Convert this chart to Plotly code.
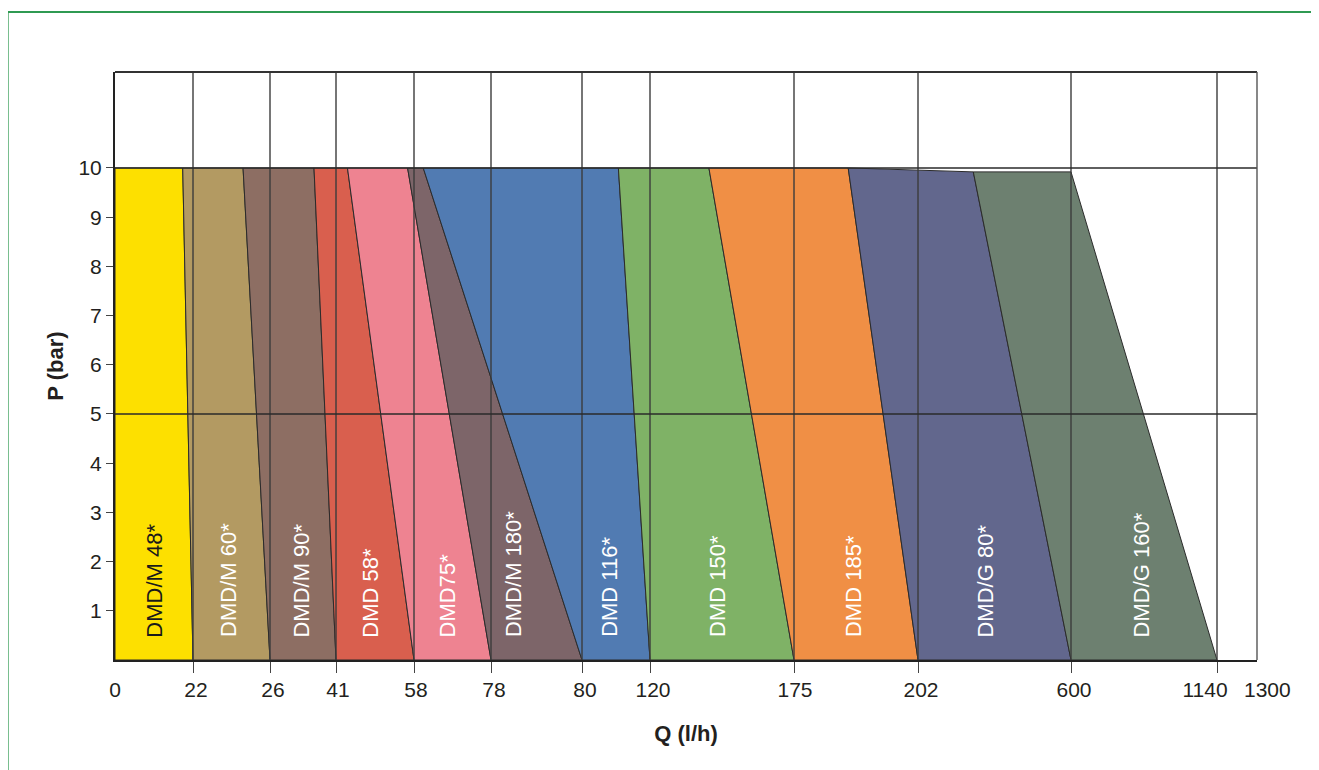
import numpy as np
import plotly.graph_objects as go

# ---------------- data ----------------
models = ["DMD/M 48*", "DMD/M 60*", "DMD/M 90*", "DMD 58*", "DMD75*", "DMD/M 180*",
          "DMD 116*", "DMD 150*", "DMD 185*", "DMD/G 80*", "DMD/G 160*"]
q_max = [22, 26, 41, 58, 78, 80, 120, 175, 202, 600, 1140]          # Q at P = 0
q_at_pmax = [19.1, 24.6, 36.0, 43.5, 56.6, 60.4, 101.4, 142.5, 186.8, 345.9, 600]  # Q at max pressure
p_max = [10, 10, 10, 10, 10, 10, 10, 10, 10, 9.92, 9.92]
label_q = [11.1, 23.85, 33.1, 48.5, 66.6, 78.5, 96.2, 145.8, 188.0, 378.1, 861.1]
label_p = 0.42

tick_q = [0, 22, 26, 41, 58, 78, 80, 120, 175, 202, 600, 1140, 1300]
tick_labels = [str(v) for v in tick_q]
y_ticks = [1, 2, 3, 4, 5, 6, 7, 8, 9, 10]

# ---------------- layout / style ----------------
tick_pos = [0, 78, 155, 221, 299, 376, 467, 535, 679, 803, 956, 1102, 1142]  # schematic axis positions
label_shift = [0, 3, 3, 2, 2, 3, 3, 3, 1, 3, 3, -12, 10]
colors = ["#FDE000", "#B39A62", "#8D6E63", "#D95F4E", "#EE8391", "#7D6569",
          "#517BB2", "#7FB266", "#F08F45", "#62678D", "#6D8070"]
text_colors = ["#1a1a1a"] + ["#ffffff"] * 10
FONT = "Liberation Sans, Arial, Helvetica, sans-serif"
EDGE = "#2b2b2b"
GRID = "#3c3c3c"
TXT = "#231f20"


def qpos(q):
    return float(np.interp(q, tick_q, tick_pos))


fig = go.Figure()

for i, name in enumerate(models):
    q_tl = 0 if i == 0 else q_at_pmax[i - 1]
    p_tl = p_max[0] if i == 0 else p_max[i - 1]
    q_bl = 0 if i == 0 else q_max[i - 1]
    xs = [qpos(q_tl), qpos(q_at_pmax[i]), qpos(q_max[i]), qpos(q_bl), qpos(q_tl)]
    ys = [p_tl, p_max[i], 0, 0, p_tl]
    fig.add_trace(go.Scatter(
        x=xs, y=ys, mode="lines", fill="toself", fillcolor=colors[i],
        line=dict(color=EDGE, width=1), name=name, hoverinfo="skip",
        showlegend=False))
    fig.add_annotation(
        x=qpos(label_q[i]), y=label_p, xref="x", yref="y", text=name,
        textangle=-90, showarrow=False, xanchor="center", yanchor="bottom",
        font=dict(family=FONT, size=22, color=text_colors[i]))

# last tick label sits just outside the plotted range -> place it in paper units
n_in = len(tick_pos) - 1
fig.add_annotation(
    x=(tick_pos[-1] + label_shift[-1]) / tick_pos[-1], y=-0.051,
    xref="paper", yref="paper",
    text=tick_labels[-1], showarrow=False, xanchor="center", yanchor="middle",
    font=dict(family=FONT, size=21, color=TXT))

shapes = []
# vertical grid lines above the areas
for tp in tick_pos[1:-1]:
    shapes.append(dict(type="line", xref="x", yref="paper", x0=tp, x1=tp, y0=0, y1=1,
                       line=dict(color=GRID, width=1.4), layer="above"))
# horizontal grid lines at 5 and 10 bar
for pv in (5, 10):
    shapes.append(dict(type="line", xref="paper", yref="y", x0=0, x1=1, y0=pv, y1=pv,
                       line=dict(color="#2a2a2a", width=1.4), layer="above"))
# outer frame of plot
shapes.append(dict(type="line", xref="paper", yref="paper", x0=0, x1=1, y0=1, y1=1,
                   line=dict(color="#333333", width=2), layer="above"))
shapes.append(dict(type="line", xref="paper", yref="paper", x0=1, x1=1, y0=0, y1=1,
                   line=dict(color="#555555", width=1.4), layer="above"))
# green page border
shapes.append(dict(type="line", xref="paper", yref="paper", x0=-0.0937, x1=-0.0937,
                   y0=-0.2, y1=1.102, line=dict(color="#2f9a52", width=1.3)))
shapes.append(dict(type="line", xref="paper", yref="paper", x0=-0.0937, x1=1.06,
                   y0=1.102, y1=1.102, line=dict(color="#2f9a52", width=1.8)))

fig.update_layout(
    width=1311, height=762,
    margin=dict(l=107, r=62, t=64, b=110),
    paper_bgcolor="white", plot_bgcolor="white",
    font=dict(family=FONT, color=TXT),
    shapes=shapes,
    showlegend=False,
)

fig.update_xaxes(
    range=[0, tick_pos[-1]],
    tickmode="array",
    tickvals=[p + s for p, s in zip(tick_pos[:n_in], label_shift[:n_in])],
    ticktext=tick_labels[:n_in],
    ticks="", showgrid=False, zeroline=False,
    ticklabelstandoff=10,
    tickfont=dict(family=FONT, size=21, color=TXT),
    showline=True, linecolor="#222222", linewidth=2,
    minor=dict(tickmode="array", tickvals=tick_pos[1:-1], ticks="outside",
               ticklen=11, tickcolor="#444444", tickwidth=1.2, showgrid=False),
    title=dict(text="<b>Q (l/h)</b>", font=dict(family=FONT, size=22, color=TXT),
               standoff=25),
    fixedrange=True,
)

fig.update_yaxes(
    range=[0, 11.95],
    tickmode="array", tickvals=y_ticks, ticktext=[str(v) for v in y_ticks],
    ticks="outside", ticklen=7, tickcolor="#444444", tickwidth=1.2,
    ticklabelstandoff=0,
    showgrid=False, zeroline=False,
    tickfont=dict(family=FONT, size=21, color=TXT),
    showline=True, linecolor="#222222", linewidth=2,
    title=dict(text="<b>P (bar)</b>", font=dict(family=FONT, size=22, color=TXT),
               standoff=9),
    fixedrange=True,
)

fig.write_html("out.html")
